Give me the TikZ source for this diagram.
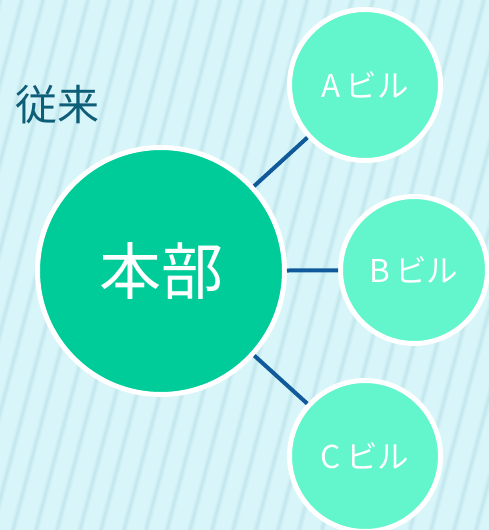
\documentclass[tikz,border=0pt]{standalone}
\usepackage{fontspec}
\newfontfamily\jp{Noto Sans CJK JP}
\definecolor{bg}{HTML}{D8F6F9}
\definecolor{stripe}{HTML}{BFE5EB}
\definecolor{mainc}{HTML}{00CC99}
\definecolor{subc}{HTML}{63F5CC}
\definecolor{linec}{HTML}{105A9C}
\definecolor{titlec}{HTML}{0E5E78}
\tikzset{
  hub/.style={circle, fill=mainc, draw=white, line width=5pt, inner sep=0pt, minimum size=247pt, text=white, font=\jp\fontsize{62}{70}\selectfont},
  sat/.style={circle, fill=subc, draw=white, line width=5pt, inner sep=0pt, minimum size=151pt, text=white, font=\jp\fontsize{31.5}{36}\selectfont},
  link/.style={draw=linec, line width=4pt},
  stripesoft/.style={draw=stripe, line width=6pt, opacity=0.35},
  stripeline/.style={draw=stripe, line width=2.5pt, opacity=0.65}
}
\begin{document}
\begin{tikzpicture}[x=1pt,y=-1pt]
\fill[bg] (0,0) rectangle (489,530);
\useasboundingbox (0,0) rectangle (489,530);
\begin{scope}
\clip (0,0) rectangle (489,530);
\foreach \x in {-140,-118,-97,-74,-52,-31,-8,13,36,57,80,101,124,146,167,190,212,233,256,278,299,322,344,365,388,410,431,454,476,498}{
  \draw[stripesoft] (\x,530) -- (\x+140,0);
  \draw[stripeline] (\x,530) -- (\x+140,0);
}
\end{scope}
\node[text=titlec, font=\jp\fontsize{42}{48}\selectfont] (title) at (58,105) {従来};
\node[hub] (hq) at (161,271) {本部};
\node[sat] (a) at (365,85) {A\,ビル};
\node[sat, minimum size=147pt] (b) at (414,270) {B\,ビル};
\node[sat] (c) at (365,456) {C\,ビル};
\draw[link] (hq) -- (a);
\draw[link] (hq) -- (b);
\draw[link] (hq) -- (c);
\end{tikzpicture}
\end{document}
